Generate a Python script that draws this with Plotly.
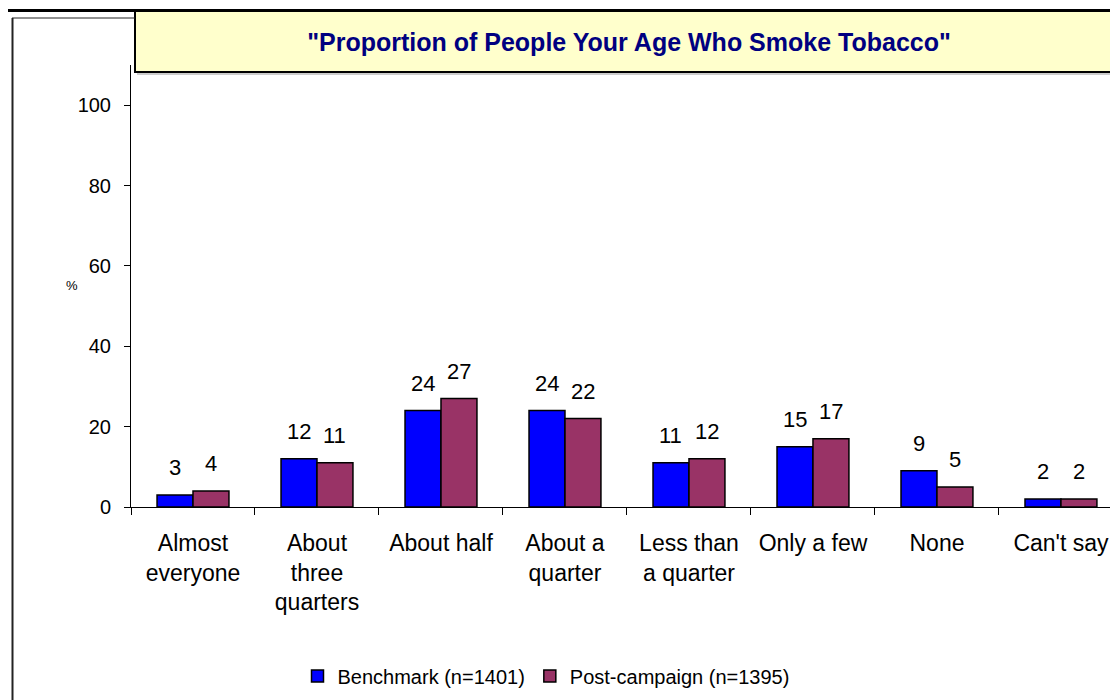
import plotly.graph_objects as go

categories = ["Almost<br>everyone", "About<br>three<br>quarters", "About half", "About a<br>quarter",
              "Less than<br>a quarter", "Only a few", "None", "Can't say"]
benchmark = [3, 12, 24, 24, 11, 15, 9, 2]
post_campaign = [4, 11, 27, 22, 12, 17, 5, 2]
series_names = ["Benchmark (n=1401)", "Post-campaign (n=1395)"]
series_colors = ["#0000FF", "#993366"]
y_ticks = [0, 20, 40, 60, 80, 100]
title_text = '"Proportion of People Your Age Who Smoke Tobacco"'

FONT = "Liberation Sans, Arial, Helvetica, sans-serif"

OFF = 8  # page body margin
W, H = 1110, 692
L, T = 123, 57
B = H - (507 - OFF)
PW = W - L
PH = H - T - B


def px(x):
    return (x - OFF - L) / PW


def py(y):
    return (H - B - (y - OFF)) / PH


fig = go.Figure()
for name, vals, col in zip(series_names, [benchmark, post_campaign], series_colors):
    fig.add_trace(go.Bar(x=categories, y=vals, name=name,
                         marker=dict(color=col, line=dict(color="black", width=1.5))))

annotations = []
for k, vals in enumerate([benchmark, post_campaign]):
    shift = -18 if k == 0 else 18
    for c, v in zip(categories, vals):
        annotations.append(dict(x=c, y=v, xref="x", yref="y", text=str(v), showarrow=False,
                                xshift=shift, yshift=27, yanchor="middle",
                                font=dict(size=22, color="black", family=FONT)))

annotations.append(dict(x=px(72), y=py(285), xref="paper", yref="paper", text="%",
                        showarrow=False, xanchor="center", yanchor="middle",
                        font=dict(size=13, color="black", family=FONT)))

shapes = [
    # title box shadow
    dict(type="line", xref="paper", yref="paper", x0=px(137), x1=px(1130), y0=py(74), y1=py(74),
         line=dict(color="#999999", width=1)),
    # title box
    dict(type="rect", xref="paper", yref="paper", x0=px(135), x1=px(1130), y0=py(72), y1=py(11),
         fillcolor="#FFFFCC", line=dict(color="black", width=2)),
    # thick top line
    dict(type="line", xref="paper", yref="paper", x0=px(0), x1=px(1130), y0=py(10.5), y1=py(10.5),
         line=dict(color="black", width=3)),
    # outer frame left
    dict(type="line", xref="paper", yref="paper", x0=px(12.5), x1=px(12.5), y0=py(18), y1=py(705),
         line=dict(color="#222222", width=2)),
    # outer frame top (left of title box)
    dict(type="line", xref="paper", yref="paper", x0=px(12), x1=px(135), y0=py(18), y1=py(18),
         line=dict(color="#222222", width=1)),
]

fig.update_layout(
    template="none",
    width=W, height=H,
    margin=dict(l=L, r=0, t=T, b=B, pad=0),
    paper_bgcolor="white", plot_bgcolor="white",
    font=dict(family=FONT, color="black"),
    barmode="group", bargap=0.42, bargroupgap=0,
    title=dict(text=title_text, x=(629 - OFF) / W, y=1 - (42 - OFF) / H,
               xref="container", yref="container", xanchor="center", yanchor="middle",
               font=dict(size=25, color="#000080", family=FONT, weight="bold")),
    xaxis=dict(type="category", range=[-0.5, 7.46], tickson="boundaries", ticks="outside",
               ticklen=7, tickcolor="black", tickwidth=1, showline=True, linecolor="black",
               linewidth=1, showgrid=False, zeroline=False, automargin=False,
               tickfont=dict(size=23, color="black", family=FONT), ticklabelstandoff=15),
    yaxis=dict(range=[0, 110], tickvals=y_ticks, ticks="outside", ticklen=6, tickcolor="black",
               tickwidth=1, showline=True, linecolor="black", linewidth=1, showgrid=False,
               zeroline=False, automargin=False, ticklabelstandoff=9,
               tickfont=dict(size=20, color="black", family=FONT)),
    legend=dict(orientation="h", xref="container", yref="container",
                x=(546 - OFF) / W, y=1 - (676 - OFF) / H,
                xanchor="center", yanchor="middle", font=dict(size=20, color="black", family=FONT),
                bgcolor="rgba(0,0,0,0)", itemwidth=30, traceorder="normal"),
    showlegend=True,
    shapes=shapes,
    annotations=annotations,
)

fig.write_html("out.html")
